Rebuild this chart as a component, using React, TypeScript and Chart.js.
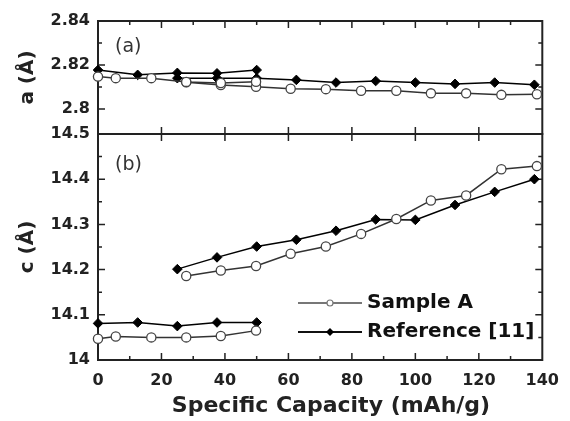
import { useEffect, useRef } from "react";
import { Chart, registerables } from "chart.js";

Chart.register(...registerables);

// x positions (mAh/g)
const sampleX1 = [0, 5.6, 16.8, 27.8, 38.7, 49.8];
const sampleX2 = [27.8, 38.7, 49.8, 60.7, 71.8, 82.9, 94, 104.9, 116, 127.1, 138.3];
const refX1 = [0, 12.5, 25, 37.5, 50];
const refX2 = [25, 37.5, 50, 62.5, 75, 87.5, 100, 112.5, 125, 137.5];

// lattice parameter a (Å)
const sampleA1 = [2.8147, 2.814, 2.814, 2.8123, 2.8118, 2.8124];
const sampleA2 = [2.8121, 2.8109, 2.8101, 2.8092, 2.809, 2.8083, 2.8083, 2.8071, 2.8071, 2.8064, 2.8067];
const refA1 = [2.8177, 2.8155, 2.8164, 2.8162, 2.8177];
const refA2 = [2.814, 2.814, 2.814, 2.8132, 2.812, 2.8127, 2.812, 2.8114, 2.812, 2.811];

// lattice parameter c (Å)
const sampleC1 = [14.047, 14.052, 14.05, 14.05, 14.053, 14.065];
const sampleC2 = [14.186, 14.198, 14.208, 14.235, 14.251, 14.279, 14.312, 14.353, 14.364, 14.422, 14.429];
const refC1 = [14.081, 14.083, 14.075, 14.083, 14.083];
const refC2 = [14.201, 14.227, 14.251, 14.266, 14.286, 14.311, 14.31, 14.343, 14.372, 14.4];

// ticks
const xTicks = [0, 10, 20, 30, 40, 50, 60, 70, 80, 90, 100, 110, 120, 130, 140];
const xTickLabels = ["0", "", "20", "", "40", "", "60", "", "80", "", "100", "", "120", "", "140"];
const aTicks = [2.8, 2.81, 2.82, 2.83, 2.84];
const aTickLabels = ["2.8", "", "2.82", "", "2.84"];
const cTicks = [14, 14.05, 14.1, 14.15, 14.2, 14.25, 14.3, 14.35, 14.4, 14.45, 14.5];
const cTickLabels = ["14", "", "14.1", "", "14.2", "", "14.3", "", "14.4", "", "14.5"];

const xTitle = "Specific Capacity (mAh/g)";
const legendLabels = ["Sample A", "Reference [11]"];
const panelLabels = ["(a)", "(b)"];

const FONT = "'DejaVu Sans', sans-serif";
const SAMPLE_COLOR = "#333";
const REF_COLOR = "#000";

const pts = (xs: number[], ys: number[]) => xs.map((x, i) => ({ x, y: ys[i] }));

const sampleStyle = {
  borderColor: SAMPLE_COLOR,
  borderWidth: 1.5,
  pointStyle: "circle",
  pointRadius: 4.6,
  pointBorderWidth: 1.3,
  pointBorderColor: "#444",
  pointBackgroundColor: "#fff",
  showLine: true,
  clip: false as const,
};
const refStyle = {
  borderColor: REF_COLOR,
  borderWidth: 1.5,
  pointStyle: "rectRot",
  pointRadius: 4.8,
  pointBorderWidth: 1,
  pointBorderColor: "#000",
  pointBackgroundColor: "#000",
  showLine: true,
  clip: false as const,
};

const framePlugin = {
  id: "framePlugin",
  beforeDatasetsDraw(chart: any) {
    const { ctx, chartArea } = chart;
    const { left, right } = chartArea;
    const xs = chart.scales.x;
    const ya = chart.scales.ya;
    const yc = chart.scales.yc;
    ctx.save();
    ctx.strokeStyle = "#222";
    ctx.lineWidth = 2;
    ctx.strokeRect(left, ya.top, right - left, ya.bottom - ya.top);
    ctx.strokeRect(left, yc.top, right - left, yc.bottom - yc.top);
    ctx.lineWidth = 1.5;
    ctx.beginPath();
    const yTick = (s: any, vals: number[], labels: string[]) => {
      vals.forEach((v, i) => {
        const y = s.getPixelForValue(v);
        if (y <= s.top + 1 || y >= s.bottom - 1) return;
        const len = labels[i] ? 7 : 4;
        ctx.moveTo(left, y);
        ctx.lineTo(left + len, y);
        ctx.moveTo(right, y);
        ctx.lineTo(right - len, y);
      });
    };
    yTick(ya, aTicks, aTickLabels);
    yTick(yc, cTicks, cTickLabels);
    xTicks.forEach((v, i) => {
      const x = xs.getPixelForValue(v);
      if (x <= left + 1 || x >= right - 1) return;
      const major = xTickLabels[i] !== "";
      const len = major ? 7 : 4;
      ctx.moveTo(x, ya.top);
      ctx.lineTo(x, ya.top + len);
      ctx.moveTo(x, yc.bottom);
      ctx.lineTo(x, yc.bottom - len);
      if (major) {
        ctx.moveTo(x, ya.bottom);
        ctx.lineTo(x, ya.bottom - 7);
        ctx.moveTo(x, yc.top);
        ctx.lineTo(x, yc.top + 7);
      }
    });
    ctx.stroke();
    ctx.restore();
  },
  afterDraw(chart: any) {
    const { ctx, chartArea } = chart;
    const ya = chart.scales.ya;
    const yc = chart.scales.yc;
    ctx.save();
    // x title
    ctx.fillStyle = "#222";
    ctx.font = `bold 22px ${FONT}`;
    ctx.textAlign = "center";
    ctx.textBaseline = "middle";
    ctx.fillText(xTitle, chartArea.left + 233, chartArea.bottom + 46);
    // panel labels
    ctx.fillStyle = "#333";
    ctx.font = `19px ${FONT}`;
    ctx.textAlign = "left";
    ctx.fillText(panelLabels[0], chartArea.left + 17, ya.top + 26);
    ctx.fillText(panelLabels[1], chartArea.left + 17, yc.top + 31);
    // legend
    const lx0 = chartArea.left + 200;
    const lx1 = chartArea.left + 264;
    const rows = [chartArea.bottom - 57, chartArea.bottom - 28];
    ctx.strokeStyle = "#777";
    ctx.lineWidth = 2;
    ctx.beginPath();
    ctx.moveTo(lx0, rows[0]);
    ctx.lineTo(lx1, rows[0]);
    ctx.stroke();
    ctx.beginPath();
    ctx.fillStyle = "#fff";
    ctx.lineWidth = 1.2;
    ctx.arc((lx0 + lx1) / 2, rows[0], 3, 0, Math.PI * 2);
    ctx.fill();
    ctx.stroke();
    ctx.strokeStyle = "#111";
    ctx.lineWidth = 2;
    ctx.beginPath();
    ctx.moveTo(lx0, rows[1]);
    ctx.lineTo(lx1, rows[1]);
    ctx.stroke();
    const cx = (lx0 + lx1) / 2;
    ctx.fillStyle = "#000";
    ctx.beginPath();
    ctx.moveTo(cx, rows[1] - 4);
    ctx.lineTo(cx + 4, rows[1]);
    ctx.lineTo(cx, rows[1] + 4);
    ctx.lineTo(cx - 4, rows[1]);
    ctx.closePath();
    ctx.fill();
    ctx.fillStyle = "#111";
    ctx.font = `bold 20px ${FONT}`;
    ctx.fillText(legendLabels[0], lx1 + 5, rows[0]);
    ctx.fillText(legendLabels[1], lx1 + 5, rows[1]);
    ctx.restore();
  },
};

export default function App() {
  const ref = useRef<HTMLCanvasElement | null>(null);
  useEffect(() => {
    if (!ref.current) return;
    const tickFont = { family: FONT, size: 16, weight: "bold" as const };
    const chart = new Chart(ref.current, {
      type: "line",
      data: {
        datasets: [
          { label: "Sample A", data: pts(sampleX1, sampleA1), yAxisID: "ya", ...sampleStyle },
          { label: "Sample A", data: pts(sampleX2, sampleA2), yAxisID: "ya", ...sampleStyle },
          { label: "Reference [11]", data: pts(refX1, refA1), yAxisID: "ya", ...refStyle },
          { label: "Reference [11]", data: pts(refX2, refA2), yAxisID: "ya", ...refStyle },
          { label: "Sample A", data: pts(sampleX1, sampleC1), yAxisID: "yc", ...sampleStyle },
          { label: "Sample A", data: pts(sampleX2, sampleC2), yAxisID: "yc", ...sampleStyle },
          { label: "Reference [11]", data: pts(refX1, refC1), yAxisID: "yc", ...refStyle },
          { label: "Reference [11]", data: pts(refX2, refC2), yAxisID: "yc", ...refStyle },
        ] as any,
      },
      options: {
        animation: false,
        responsive: false,
        devicePixelRatio: 1,
        layout: { padding: { left: 0, top: 21, right: 21, bottom: 0 } },
        plugins: { legend: { display: false }, tooltip: { enabled: false } },
        scales: {
          x: {
            type: "linear",
            min: 0,
            max: 140,
            grid: { display: false, drawTicks: false },
            border: { display: false },
            afterBuildTicks: (s: any) => {
              s.ticks = xTicks.map((v) => ({ value: v }));
            },
            afterFit: (s: any) => {
              s.height = 61;
            },
            ticks: {
              autoSkip: false,
              maxRotation: 0,
              padding: 11,
              color: "#222",
              font: tickFont,
              callback: (_v: any, i: number) => xTickLabels[i],
            },
            title: { display: false },
          },
          yc: {
            type: "linear",
            position: "left",
            stack: "panels",
            stackWeight: 2,
            weight: 1,
            min: 14,
            max: 14.5,
            grid: { display: false, drawTicks: false },
            border: { display: false },
            afterBuildTicks: (s: any) => {
              s.ticks = cTicks.map((v) => ({ value: v }));
            },
            afterFit: (s: any) => {
              s.width = 98;
            },
            ticks: {
              autoSkip: false,
              padding: 8,
              color: "#222",
              font: tickFont,
              callback: (_v: any, i: number) => cTickLabels[i],
            },
            title: {
              display: true,
              text: "c (Å)",
              color: "#222",
              font: { family: FONT, size: 20, weight: "bold" },
              padding: { top: 16, bottom: 0 },
            },
          },
          ya: {
            type: "linear",
            position: "left",
            stack: "panels",
            stackWeight: 1,
            weight: 2,
            min: 2.7886,
            max: 2.84,
            grid: { display: false, drawTicks: false },
            border: { display: false },
            afterBuildTicks: (s: any) => {
              s.ticks = aTicks.map((v) => ({ value: v }));
            },
            afterFit: (s: any) => {
              s.width = 98;
            },
            ticks: {
              autoSkip: false,
              padding: 8,
              color: "#222",
              font: tickFont,
              callback: (_v: any, i: number) => aTickLabels[i],
            },
            title: {
              display: true,
              text: "a (Å)",
              color: "#222",
              font: { family: FONT, size: 20, weight: "bold" },
              padding: { top: 16, bottom: 0 },
            },
          },
        },
      } as any,
      plugins: [framePlugin],
    });
    return () => chart.destroy();
  }, []);
  return (
    <div style={{ position: "fixed", left: 0, top: 0, width: 570, height: 421, background: "#fff" }}>
      <canvas ref={ref} width={570} height={421} style={{ display: "block", width: 570, height: 421 }} />
    </div>
  );
}
